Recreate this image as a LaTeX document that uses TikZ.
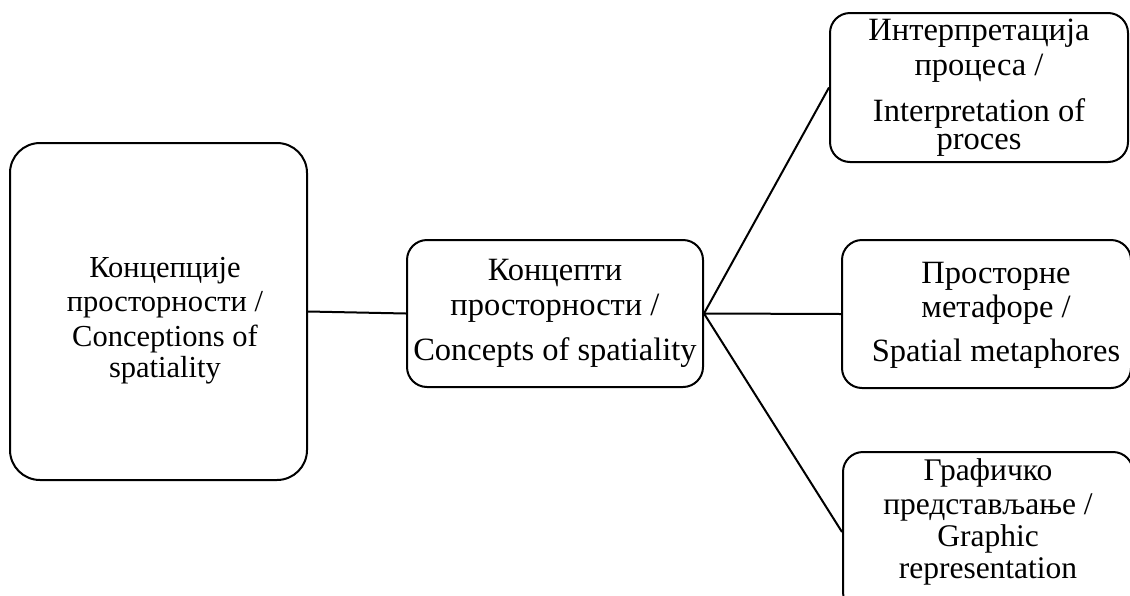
\documentclass[tikz,border=0pt]{standalone}
\usepackage{fontspec}
\setmainfont{Liberation Serif}
\begin{document}
\begin{tikzpicture}[x=1pt,y=-1pt,
  box/.style={draw=black, line width=2pt, rounded corners=20pt, inner sep=0pt,
    align=center, font=\fontsize{32.5}{35}\selectfont},
  txt/.style={inner sep=0pt, align=center, font=\fontsize{32.5}{35}\selectfont},
  conn/.style={draw=black, line width=2pt}]
\useasboundingbox (0,0) rectangle (1130,595);
\node[box, rounded corners=30pt, minimum width=297pt, minimum height=337pt] (left) at (158.5,311.5) {};
\node[txt, font=\fontsize{30.5}{34}\selectfont] (lefttxt) at (165,321)
  {Концепције\\[0pt] просторности /\\[1pt] Conceptions of\\[-3pt] spatiality};
\node[box, minimum width=296pt, minimum height=147pt] (mid) at (555,313.5)
  {Концепти\\[0pt] просторности /\\[10pt] Concepts of spatiality};
\node[box, minimum width=298pt, minimum height=149pt] (tr) at (979,87.5)
  {Интерпретација\\[0pt] процеса /\\[11pt] Interpretation of\\[-7pt] proces};
\node[box, minimum width=289pt, minimum height=148pt] (mr) at (986.5,314) {};
\node[txt] (mrtxt) at (996,315)
  {Просторне\\[-1pt] метафоре /\\[9pt] Spatial metaphores};
\node[box, minimum width=290pt, minimum height=160pt] (br) at (988,532) {};
\node[txt, font=\fontsize{31.5}{34}\selectfont] (brtxt) at (988,522)
  {Графичко\\[0pt] представљање /\\[-2pt] Graphic\\[-2pt] representation};
\draw[conn] (left.east) -- (mid.west);
\draw[conn] (mid.east) -- (tr.west);
\draw[conn] (mid.east) -- (mr.west);
\draw[conn] (mid.east) -- (br.west);
\end{tikzpicture}
\end{document}
